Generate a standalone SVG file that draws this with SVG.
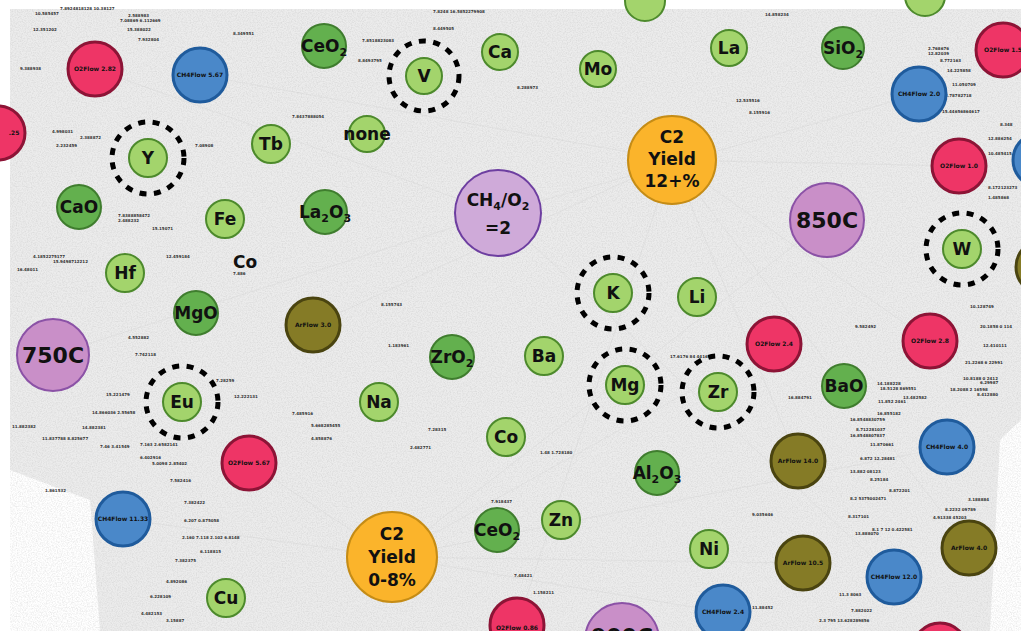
<svg xmlns="http://www.w3.org/2000/svg" width="1021" height="631" viewBox="0 0 1021 631">
<defs>
<filter id="noise" x="0" y="0" width="100%" height="100%">
<feTurbulence type="fractalNoise" baseFrequency="0.8" numOctaves="2" seed="3" result="t"/>
<feColorMatrix type="matrix" values="0 0 0 0 0.45  0 0 0 0 0.45  0 0 0 0 0.45  0 0 0 1.2 -0.45" in="t"/>
</filter>
<style>
.el{fill:#a3d46c;stroke:#4d8a2c;stroke-width:2}
.ox{fill:#63b04e;stroke:#3f7d2e;stroke-width:2}
.o2{fill:#ee3566;stroke:#8c1436;stroke-width:3}
.ch{fill:#4a88c9;stroke:#1f5b9c;stroke-width:3}
.ar{fill:#857b26;stroke:#4a4410;stroke-width:3}
.tp{fill:#c98fc8;stroke:#8b52a6;stroke-width:2}
.ra{fill:#cfaad9;stroke:#6d3ea0;stroke-width:2}
.yd{fill:#fbb42b;stroke:#c58c16;stroke-width:2}
.ring{fill:none;stroke:#000;stroke-width:5;stroke-dasharray:7 7.5}
text{font-family:"DejaVu Sans","Liberation Sans",sans-serif;font-weight:bold;fill:#111;text-anchor:middle}
.t{font-size:17px}
.b{font-size:22px}
.f{font-size:6px}
.n{font-size:4px;fill:#333;text-anchor:start}
</style>
</defs>
<rect width="1021" height="631" fill="#fff"/>
<path d="M10,9 L1021,9 L1021,420 L1000,440 L990,631 L100,631 L90,500 L10,470 Z" fill="#ececec"/>
<path d="M10,9 L1021,9 L1021,420 L1000,440 L990,631 L100,631 L90,500 L10,470 Z" fill="#fff" filter="url(#noise)" opacity="0.5"/>
<g id="edges" stroke="#d2d2d2" stroke-width="0.5" fill="none" opacity="0.7">
<path d="M95,69 L498,213 M200,75 L672,160 M919,94 L498,213 M959,166 L672,160 M123,519 L392,557 M249,463 L392,557 M798,461 L672,160 M947,447 L392,557 M53,355 L498,213 M827,220 L392,557 M313,325 L672,160 M774,344 L392,557 M930,341 L672,160 M894,577 L498,213 M723,612 L392,557 M969,548 L672,160 M803,563 L392,557 M517,625 L672,160"/>
</g>
<g id="labels">
<text class="n" x="35" y="15">10.585457</text><text class="n" x="60" y="10">7.8924818128 10.38127</text>
<text class="n" x="128" y="17">2.588983</text><text class="n" x="120" y="22">7.08869 6.112669</text>
<text class="n" x="33" y="31">12.351202</text><text class="n" x="127" y="31">15.388022</text>
<text class="n" x="138" y="41">7.932804</text><text class="n" x="233" y="35">8.349551</text>
<text class="n" x="20" y="70">9.388938</text><text class="n" x="52" y="133">4.998031</text>
<text class="n" x="80" y="139">2.388872</text><text class="n" x="56" y="147">2.232459</text>
<text class="n" x="195" y="147">7.08908</text><text class="n" x="292" y="118">7.8437888054</text>
<text class="n" x="362" y="42">7.8518823083</text><text class="n" x="358" y="62">8.8493795</text>
<text class="n" x="433" y="30">8.449505</text><text class="n" x="433" y="13">7.8248 16.5852279908</text>
<text class="n" x="517" y="89">8.288973</text><text class="n" x="765" y="16">14.858234</text>
<text class="n" x="736" y="102">12.535516</text><text class="n" x="749" y="114">8.155916</text>
<text class="n" x="928" y="50">2.768676</text><text class="n" x="928" y="55">12.82039</text>
<text class="n" x="940" y="62">8.772163</text><text class="n" x="947" y="72">14.225858</text>
<text class="n" x="952" y="86">11.050709</text><text class="n" x="945" y="97">8.78782718</text>
<text class="n" x="942" y="113">15.44656864617</text><text class="n" x="1000" y="126">8.348</text>
<text class="n" x="988" y="140">12.886254</text><text class="n" x="988" y="155">10.485415</text>
<text class="n" x="988" y="189">8.172123273</text><text class="n" x="988" y="199">1.485868</text>
<text class="n" x="118" y="217">7.8388858472</text><text class="n" x="118" y="222">2.488232</text>
<text class="n" x="152" y="230">15.15071</text><text class="n" x="33" y="258">4.1852275177</text>
<text class="n" x="53" y="263">15.9498712212</text><text class="n" x="17" y="271">16.48011</text>
<text class="n" x="166" y="258">12.459184</text><text class="n" x="233" y="275">7.886</text>
<text class="n" x="128" y="339">4.552882</text><text class="n" x="135" y="356">7.742118</text>
<text class="n" x="216" y="382">7.28259</text><text class="n" x="234" y="398">12.222131</text>
<text class="n" x="106" y="396">15.221479</text><text class="n" x="92" y="414">14.866036 2.55658</text>
<text class="n" x="292" y="415">7.485916</text><text class="n" x="311" y="427">5.668285455</text>
<text class="n" x="311" y="440">4.858876</text><text class="n" x="12" y="428">11.882382</text>
<text class="n" x="42" y="440">11.837788 8.825677</text><text class="n" x="82" y="429">14.882381</text>
<text class="n" x="100" y="448">7.46 3.41549</text><text class="n" x="140" y="446">7.163 2.6582141</text>
<text class="n" x="140" y="459">6.402916</text><text class="n" x="152" y="465">5.0098 2.85402</text>
<text class="n" x="170" y="482">7.582416</text><text class="n" x="45" y="492">1.861532</text>
<text class="n" x="184" y="504">7.382422</text><text class="n" x="184" y="522">6.207 0.875058</text>
<text class="n" x="182" y="539">2.160 7.118 2.102 6.8148</text><text class="n" x="200" y="553">6.118815</text>
<text class="n" x="175" y="562">7.382375</text><text class="n" x="166" y="583">4.892086</text>
<text class="n" x="150" y="598">6.228109</text><text class="n" x="141" y="615">4.482153</text>
<text class="n" x="166" y="622">3.15887</text><text class="n" x="381" y="306">8.155743</text>
<text class="n" x="388" y="347">1.183961</text><text class="n" x="428" y="431">7.28315</text>
<text class="n" x="410" y="449">2.482771</text><text class="n" x="540" y="454">1.48 1.728180</text>
<text class="n" x="491" y="503">7.918437</text><text class="n" x="514" y="577">7.48421</text>
<text class="n" x="533" y="594">1.158211</text><text class="n" x="670" y="358">17.6176 84 44166</text>
<text class="n" x="855" y="328">9.582492</text><text class="n" x="970" y="308">10.128749</text>
<text class="n" x="980" y="328">20.1858 0 114</text><text class="n" x="983" y="347">12.410111</text>
<text class="n" x="965" y="364">21.2268 6 22991</text><text class="n" x="963" y="380">10.8188 0 2412</text>
<text class="n" x="950" y="391">18.2088 2 16598</text><text class="n" x="980" y="384">6.29987</text>
<text class="n" x="977" y="396">8.412880</text><text class="n" x="877" y="385">14.188228</text>
<text class="n" x="880" y="390">18.5128 869551</text><text class="n" x="903" y="399">13.482582</text>
<text class="n" x="878" y="403">11.852 2461</text><text class="n" x="877" y="415">16.855182</text>
<text class="n" x="788" y="399">16.884791</text><text class="n" x="850" y="421">16.8548830759</text>
<text class="n" x="856" y="431">8.712281037</text><text class="n" x="850" y="437">16.8548807837</text>
<text class="n" x="870" y="446">11.870661</text><text class="n" x="860" y="460">6.872 12.28481</text>
<text class="n" x="850" y="473">13.882 08123</text><text class="n" x="870" y="481">8.25184</text>
<text class="n" x="889" y="492">8.872201</text><text class="n" x="850" y="500">8.2 5375002471</text>
<text class="n" x="968" y="501">3.188884</text><text class="n" x="945" y="511">8.2232 09789</text>
<text class="n" x="933" y="519">4.91338 45203</text><text class="n" x="848" y="518">8.317101</text>
<text class="n" x="872" y="531">8.1 7 12 0.422581</text><text class="n" x="855" y="535">13.888070</text>
<text class="n" x="752" y="516">9.035646</text><text class="n" x="839" y="596">11.3 8063</text>
<text class="n" x="851" y="612">7.882022</text><text class="n" x="819" y="622">2.3 795 13.628289856</text>
<text class="n" x="752" y="609">11.88452</text>
</g>
<g id="node-O2Flow-2.25"><circle class="o2" cx="-2" cy="133" r="27"/><text class="f" x="14" y="135">.25</text></g>
<g id="node-O2Flow-2.82"><circle class="o2" cx="95" cy="69" r="27"/><text class="f" x="95" y="71">O2Flow 2.82</text></g>
<g id="node-CH4Flow-5.67"><circle class="ch" cx="200" cy="75" r="27"/><text class="f" x="200" y="77">CH4Flow 5.67</text></g>
<g id="node-CeO2-top"><circle class="ox" cx="324" cy="46" r="22"/><text class="t" x="324" y="52">CeO<tspan font-size="11" dy="4">2</tspan></text></g>
<g id="node-V"><circle class="el" cx="424" cy="76" r="18"/><circle class="ring" cx="424" cy="76" r="35"/><text class="t" x="424" y="82">V</text></g>
<g id="node-Ca"><circle class="el" cx="500" cy="52" r="18"/><text class="t" x="500" y="58">Ca</text></g>
<g id="node-Mo"><circle class="el" cx="598" cy="69" r="18"/><text class="t" x="598" y="75">Mo</text></g>
<g id="node-top-green"><circle class="el" cx="645" cy="1" r="20"/></g>
<g id="node-La"><circle class="el" cx="729" cy="48" r="18"/><text class="t" x="729" y="54">La</text></g>
<g id="node-SiO2"><circle class="ox" cx="843" cy="48" r="21"/><text class="t" x="843" y="54">SiO<tspan font-size="11" dy="4">2</tspan></text></g>
<g id="node-top-green2"><circle class="el" cx="925" cy="-4" r="20"/></g>
<g id="node-O2Flow-1.5"><circle class="o2" cx="1003" cy="50" r="27"/><text class="f" x="1003" y="52">O2Flow 1.5</text></g>
<g id="node-CH4Flow-2.0"><circle class="ch" cx="919" cy="94" r="27"/><text class="f" x="919" y="96">CH4Flow 2.0</text></g>
<g id="node-O2Flow-1.0"><circle class="o2" cx="959" cy="166" r="27"/><text class="f" x="959" y="168">O2Flow 1.0</text></g>
<g id="node-right-blue"><circle class="ch" cx="1040" cy="160" r="27"/></g>
<g id="node-Y"><circle class="el" cx="148" cy="158" r="19"/><circle class="ring" cx="148" cy="158" r="36"/><text class="t" x="148" y="164">Y</text></g>
<g id="node-Tb"><circle class="el" cx="271" cy="144" r="19"/><text class="t" x="271" y="150">Tb</text></g>
<g id="node-none"><circle class="el" cx="367" cy="134" r="18"/><text class="t" x="367" y="140">none</text></g>
<g id="node-CH4O2"><circle class="ra" cx="498" cy="213" r="43"/><text class="t" x="498" y="206">CH<tspan font-size="11" dy="4">4</tspan><tspan dy="-4">/O</tspan><tspan font-size="11" dy="4">2</tspan></text><text class="t" x="498" y="234">=2</text></g>
<g id="node-C2-12"><circle class="yd" cx="672" cy="160" r="44"/><text class="t" x="672" y="143">C2</text><text class="t" x="672" y="165">Yield</text><text class="t" x="672" y="187">12+%</text></g>
<g id="node-850C"><circle class="tp" cx="827" cy="220" r="37"/><text class="b" x="827" y="228">850C</text></g>
<g id="node-W"><circle class="el" cx="962" cy="249" r="19"/><circle class="ring" cx="962" cy="249" r="36"/><text class="t" x="962" y="255">W</text></g>
<g id="node-right-olive"><circle class="ar" cx="1043" cy="267" r="27"/></g>
<g id="node-CaO"><circle class="ox" cx="79" cy="207" r="22"/><text class="t" x="79" y="213">CaO</text></g>
<g id="node-Fe"><circle class="el" cx="225" cy="219" r="19"/><text class="t" x="225" y="225">Fe</text></g>
<g id="node-La2O3"><circle class="ox" cx="325" cy="212" r="22"/><text class="t" x="325" y="218">La<tspan font-size="11" dy="4">2</tspan><tspan dy="-4">O</tspan><tspan font-size="11" dy="4">3</tspan></text></g>
<g id="node-Co-label"><text class="t" x="245" y="268">Co</text></g>
<g id="node-Hf"><circle class="el" cx="125" cy="273" r="19"/><text class="t" x="125" y="279">Hf</text></g>
<g id="node-MgO"><circle class="ox" cx="196" cy="313" r="22"/><text class="t" x="196" y="319">MgO</text></g>
<g id="node-ArFlow-3.0"><circle class="ar" cx="313" cy="325" r="27"/><text class="f" x="313" y="327">ArFlow 3.0</text></g>
<g id="node-750C"><circle class="tp" cx="53" cy="355" r="36"/><text class="b" x="53" y="363">750C</text></g>
<g id="node-Eu"><circle class="el" cx="182" cy="402" r="19"/><circle class="ring" cx="182" cy="402" r="36"/><text class="t" x="182" y="408">Eu</text></g>
<g id="node-O2Flow-5.67"><circle class="o2" cx="249" cy="463" r="27"/><text class="f" x="249" y="465">O2Flow 5.67</text></g>
<g id="node-CH4Flow-11.33"><circle class="ch" cx="123" cy="519" r="27"/><text class="f" x="123" y="521">CH4Flow 11.33</text></g>
<g id="node-Cu"><circle class="el" cx="226" cy="598" r="19"/><text class="t" x="226" y="604">Cu</text></g>
<g id="node-ZrO2"><circle class="ox" cx="452" cy="357" r="22"/><text class="t" x="452" y="363">ZrO<tspan font-size="11" dy="4">2</tspan></text></g>
<g id="node-Ba"><circle class="el" cx="544" cy="356" r="19"/><text class="t" x="544" y="362">Ba</text></g>
<g id="node-Na"><circle class="el" cx="379" cy="402" r="19"/><text class="t" x="379" y="408">Na</text></g>
<g id="node-Co"><circle class="el" cx="506" cy="437" r="19"/><text class="t" x="506" y="443">Co</text></g>
<g id="node-K"><circle class="el" cx="613" cy="293" r="19"/><circle class="ring" cx="613" cy="293" r="36"/><text class="t" x="613" y="299">K</text></g>
<g id="node-Li"><circle class="el" cx="697" cy="297" r="19"/><text class="t" x="697" y="303">Li</text></g>
<g id="node-Mg"><circle class="el" cx="625" cy="385" r="19"/><circle class="ring" cx="625" cy="385" r="36"/><text class="t" x="625" y="391">Mg</text></g>
<g id="node-Zr"><circle class="el" cx="718" cy="392" r="19"/><circle class="ring" cx="718" cy="392" r="36"/><text class="t" x="718" y="398">Zr</text></g>
<g id="node-O2Flow-2.4"><circle class="o2" cx="774" cy="344" r="27"/><text class="f" x="774" y="346">O2Flow 2.4</text></g>
<g id="node-O2Flow-2.8"><circle class="o2" cx="930" cy="341" r="27"/><text class="f" x="930" y="343">O2Flow 2.8</text></g>
<g id="node-BaO"><circle class="ox" cx="844" cy="386" r="22"/><text class="t" x="844" y="392">BaO</text></g>
<g id="node-Al2O3"><circle class="ox" cx="657" cy="473" r="22"/><text class="t" x="657" y="479">Al<tspan font-size="11" dy="4">2</tspan><tspan dy="-4">O</tspan><tspan font-size="11" dy="4">3</tspan></text></g>
<g id="node-CeO2-bottom"><circle class="ox" cx="497" cy="530" r="22"/><text class="t" x="497" y="536">CeO<tspan font-size="11" dy="4">2</tspan></text></g>
<g id="node-Zn"><circle class="el" cx="561" cy="520" r="19"/><text class="t" x="561" y="526">Zn</text></g>
<g id="node-C2-0-8"><circle class="yd" cx="392" cy="557" r="45"/><text class="t" x="392" y="540">C2</text><text class="t" x="392" y="563">Yield</text><text class="t" x="392" y="586">0-8%</text></g>
<g id="node-O2Flow-0.86"><circle class="o2" cx="517" cy="625" r="27"/><text class="f" x="517" y="630">O2Flow 0.86</text></g>
<g id="node-900C"><circle class="tp" cx="622" cy="640" r="37"/><text class="b" x="622" y="644">900C</text></g>
<g id="node-ArFlow-14.0"><circle class="ar" cx="798" cy="461" r="27"/><text class="f" x="798" y="463">ArFlow 14.0</text></g>
<g id="node-CH4Flow-4.0"><circle class="ch" cx="947" cy="447" r="27"/><text class="f" x="947" y="449">CH4Flow 4.0</text></g>
<g id="node-Ni"><circle class="el" cx="709" cy="549" r="19"/><text class="t" x="709" y="555">Ni</text></g>
<g id="node-ArFlow-10.5"><circle class="ar" cx="803" cy="563" r="27"/><text class="f" x="803" y="565">ArFlow 10.5</text></g>
<g id="node-ArFlow-4.0"><circle class="ar" cx="969" cy="548" r="27"/><text class="f" x="969" y="550">ArFlow 4.0</text></g>
<g id="node-CH4Flow-12.0"><circle class="ch" cx="894" cy="577" r="27"/><text class="f" x="894" y="579">CH4Flow 12.0</text></g>
<g id="node-CH4Flow-2.4"><circle class="ch" cx="723" cy="612" r="27"/><text class="f" x="723" y="614">CH4Flow 2.4</text></g>
<g id="node-bottom-red"><circle class="o2" cx="940" cy="650" r="27"/></g>
</svg>
